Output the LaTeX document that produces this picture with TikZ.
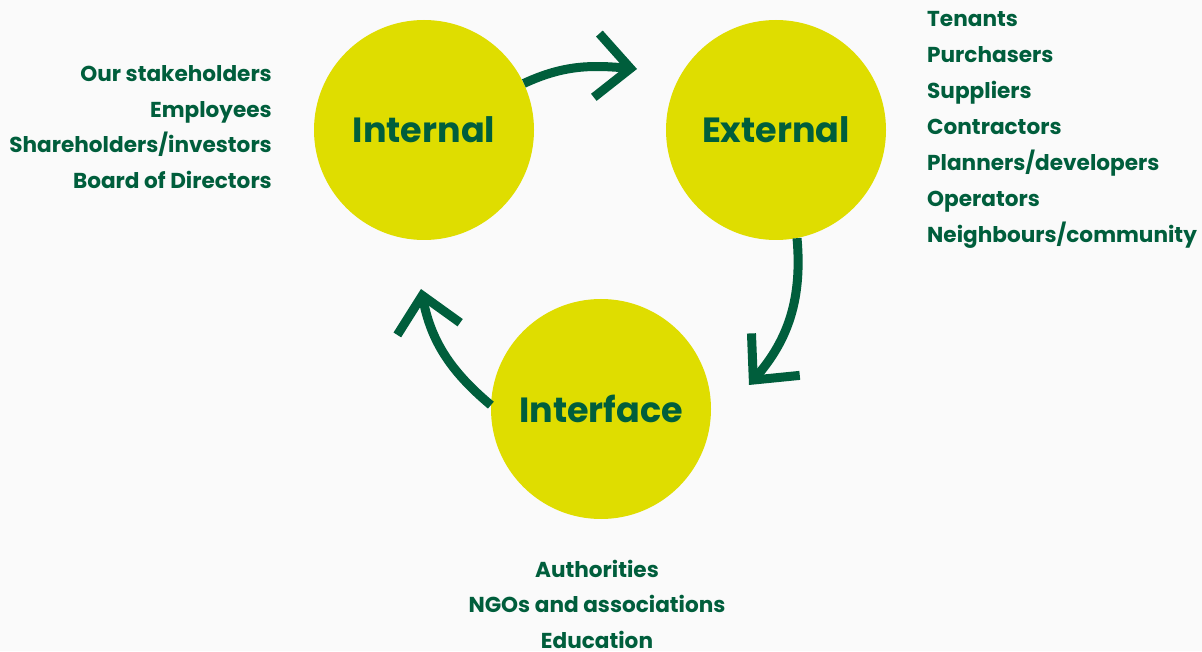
\documentclass[tikz,border=0pt]{standalone}
\usepackage{fontspec}
\setmainfont{Poppins}
\usetikzlibrary{arrows.meta}
\definecolor{dgreen}{RGB}{0,94,60}
\definecolor{lime}{RGB}{223,221,0}
\definecolor{bgc}{RGB}{250,250,250}
\begin{document}
\begin{tikzpicture}[x=1pt,y=1pt,
  circ/.style={circle, fill=lime, minimum size=220pt, inner sep=0pt, text=dgreen, font=\bfseries\fontsize{35}{40}\selectfont},
  lab/.style={text=dgreen, font=\bfseries\fontsize{21.6}{24}\selectfont, inner sep=0pt},
  flow/.style={draw=dgreen, line width=9pt, -{Straight Barb[length=34pt,width=64pt]}}]
\fill[bgc] (0,0) rectangle (1202,651);
\useasboundingbox (0,0) rectangle (1202,651);
\node[circ] (int) at (424,521) {Internal};
\node[circ] (ext) at (776,521) {External};
\node[circ] (itf) at (601,242) {Interface};
\coordinate (t1) at (637,582);
\coordinate (t2) at (749,266);
\coordinate (t3) at (421,362);
\draw[flow] (int.25) to[out=25,in=175] (t1);
\draw[flow] (ext.-79) to[out=-85,in=49] (t2);
\draw[flow] (itf.178) to[out=140,in=-79] (t3);
\foreach \t [count=\i] in {Our stakeholders,Employees,Shareholders/investors,Board of Directors}
  \node[lab, anchor=base east] (l\i) at (272,{651-82-35.5*(\i-1)}) {\t};
\foreach \t [count=\i] in {Tenants,Purchasers,Suppliers,Contractors,Planners/developers,Operators,Neighbours/community}
  \node[lab, anchor=base west] (r\i) at (927,{651-27-36*(\i-1)}) {\t};
\foreach \t [count=\i] in {Authorities,NGOs and associations,Education}
  \node[lab, anchor=base] (b\i) at (597,{651-577-35.5*(\i-1)}) {\t};
\end{tikzpicture}
\end{document}
